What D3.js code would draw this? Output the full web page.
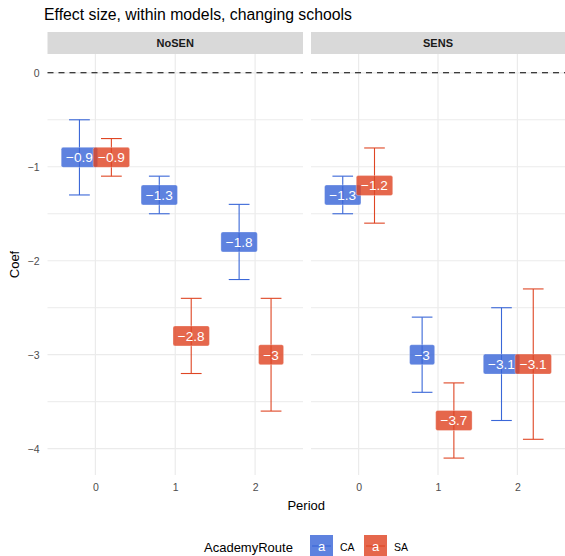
<!DOCTYPE html>
<html>
<head>
<meta charset="utf-8">
<script src="https://cdn.jsdelivr.net/npm/d3@7"></script>
<style>
  body { margin: 0; background: #fff; }
  svg { font-family: "Liberation Sans", Arial, sans-serif; display: block; }
</style>
</head>
<body>
<svg id="chart" width="565" height="556"></svg>
<script>
// data
var facets = ["NoSEN", "SENS"];
var routes = ["CA", "SA"];
var periods = [0, 1, 2];

var noSEN_CA_est = [-0.9, -1.3, -1.8];
var noSEN_CA_lo  = [-1.3, -1.5, -2.2];
var noSEN_CA_hi  = [-0.5, -1.1, -1.4];
var noSEN_SA_est = [-0.9, -2.8, -3.0];
var noSEN_SA_lo  = [-1.1, -3.2, -3.6];
var noSEN_SA_hi  = [-0.7, -2.4, -2.4];

var sens_CA_est = [-1.3, -3.0, -3.1];
var sens_CA_lo  = [-1.5, -3.4, -3.7];
var sens_CA_hi  = [-1.1, -2.6, -2.5];
var sens_SA_est = [-1.2, -3.7, -3.1];
var sens_SA_lo  = [-1.6, -4.1, -3.9];
var sens_SA_hi  = [-0.8, -3.3, -2.3];

var yTicks = [0, -1, -2, -3, -4];
var yMinor = [-0.5, -1.5, -2.5, -3.5];

// build rows
var rows = [];
function addRows(facet, route, est, lo, hi) {
    periods.forEach(function(p, i) {
        rows.push({facet: facet, route: route, period: p, est: est[i], lo: lo[i], hi: hi[i]});
    });
}
addRows("NoSEN", "CA", noSEN_CA_est, noSEN_CA_lo, noSEN_CA_hi);
addRows("NoSEN", "SA", noSEN_SA_est, noSEN_SA_lo, noSEN_SA_hi);
addRows("SENS", "CA", sens_CA_est, sens_CA_lo, sens_CA_hi);
addRows("SENS", "SA", sens_SA_est, sens_SA_lo, sens_SA_hi);

var lineCol = {CA: "#3a67d8", SA: "#df4624"};
var dodge = {CA: -0.2, SA: 0.2};

var svg = d3.select("#chart");

// panel geometry
var panelTop = 54, panelBottom = 475;
var panelX = {NoSEN: [47.5, 303], SENS: [311, 565]};

var y = d3.scaleLinear().domain([0.2, -4.28]).range([panelTop, panelBottom]);

// title
svg.append("text")
    .attr("x", 44).attr("y", 20)
    .style("font-size", "15.8px").attr("fill", "#000")
    .text("Effect size, within models, changing schools");

facets.forEach(function(f) {
    var x = d3.scaleLinear().domain([-0.6, 2.6]).range(panelX[f]);
    var g = svg.append("g");

    // strip
    g.append("rect")
        .attr("x", panelX[f][0]).attr("y", 32)
        .attr("width", panelX[f][1] - panelX[f][0]).attr("height", 22)
        .attr("fill", "#d9d9d9");
    g.append("text")
        .attr("x", (panelX[f][0] + panelX[f][1]) / 2).attr("y", 47)
        .attr("text-anchor", "middle")
        .style("font-size", "11px").style("font-weight", "bold")
        .attr("fill", "#1a1a1a")
        .text(f);

    // grid
    g.selectAll("line.minor").data(yMinor).enter().append("line")
        .attr("x1", panelX[f][0]).attr("x2", panelX[f][1])
        .attr("y1", d => y(d)).attr("y2", d => y(d))
        .attr("stroke", "#ebebeb").attr("stroke-width", 1);
    g.selectAll("line.major").data(yTicks).enter().append("line")
        .attr("x1", panelX[f][0]).attr("x2", panelX[f][1])
        .attr("y1", d => y(d)).attr("y2", d => y(d))
        .attr("stroke", "#ebebeb").attr("stroke-width", 1.2);
    g.selectAll("line.vgrid").data(periods).enter().append("line")
        .attr("x1", d => x(d)).attr("x2", d => x(d))
        .attr("y1", panelTop).attr("y2", panelBottom)
        .attr("stroke", "#ebebeb").attr("stroke-width", 1.2);

    // zero line
    g.append("line")
        .attr("x1", panelX[f][0]).attr("x2", panelX[f][1])
        .attr("y1", y(0)).attr("y2", y(0))
        .attr("stroke", "#000").attr("stroke-width", 1.1)
        .attr("stroke-dasharray", "6,5");

    // x axis
    var xAx = g.append("g")
        .attr("transform", "translate(0," + panelBottom + ")")
        .call(d3.axisBottom(x).tickValues(periods).tickSize(0).tickPadding(9).tickFormat(d3.format("d")));
    xAx.select(".domain").remove();
    xAx.selectAll("text").style("font-size", "10.5px").attr("fill", "#4d4d4d")
        .style("font-family", "Liberation Sans, Arial, sans-serif");

    var data = rows.filter(d => d.facet === f);
    var w = 0.13;

    // error bars
    var eb = g.selectAll("g.eb").data(data).enter().append("g")
        .attr("stroke", d => lineCol[d.route]).attr("stroke-width", 1.1);
    eb.append("line")
        .attr("x1", d => x(d.period + dodge[d.route])).attr("x2", d => x(d.period + dodge[d.route]))
        .attr("y1", d => y(d.lo)).attr("y2", d => y(d.hi));
    eb.append("line")
        .attr("x1", d => x(d.period + dodge[d.route] - w)).attr("x2", d => x(d.period + dodge[d.route] + w))
        .attr("y1", d => y(d.lo)).attr("y2", d => y(d.lo));
    eb.append("line")
        .attr("x1", d => x(d.period + dodge[d.route] - w)).attr("x2", d => x(d.period + dodge[d.route] + w))
        .attr("y1", d => y(d.hi)).attr("y2", d => y(d.hi));

    // labels
    data.forEach(function(d) {
        var lg = g.append("g");
        var cx = x(d.period + dodge[d.route]), cy = y(d.est);
        var rect = lg.append("rect");
        var t = lg.append("text")
            .attr("x", cx).attr("y", cy + 4.8)
            .attr("text-anchor", "middle")
            .style("font-size", "13.6px").attr("fill", "#fff")
            .text(String(d.est).replace("-", "\u2212"));
        var tw = t.node().getComputedTextLength();
        rect.attr("x", cx - tw / 2 - 4.8).attr("y", cy - 10)
            .attr("width", tw + 9.6).attr("height", 20)
            .attr("rx", 2).attr("ry", 2)
            .attr("fill", lineCol[d.route]).attr("fill-opacity", 0.82)
            .attr("stroke", "#fff").attr("stroke-opacity", 0.6).attr("stroke-width", 0.5);
    });
});

// y axis (left panel only)
var yAx = svg.append("g")
    .attr("transform", "translate(" + panelX.NoSEN[0] + ",0)")
    .call(d3.axisLeft(y).tickValues(yTicks).tickSize(0).tickPadding(8).tickFormat(d3.format("d")));
yAx.select(".domain").remove();
yAx.selectAll("text").style("font-size", "10.5px").attr("fill", "#4d4d4d")
    .style("font-family", "Liberation Sans, Arial, sans-serif");

// axis titles
svg.append("text")
    .attr("x", (panelX.NoSEN[0] + panelX.SENS[1]) / 2).attr("y", 510)
    .attr("text-anchor", "middle").style("font-size", "13px")
    .text("Period");
svg.append("text")
    .attr("transform", "translate(19," + ((panelTop + panelBottom) / 2) + ") rotate(-90)")
    .attr("text-anchor", "middle").style("font-size", "13px")
    .text("Coef");

// legend
svg.append("text")
    .attr("x", 204).attr("y", 552)
    .style("font-size", "13px")
    .text("AcademyRoute");
var legX = [310, 364];
routes.forEach(function(r, i) {
    var kg = svg.append("g").attr("transform", "translate(" + legX[i] + ",535)");
    kg.append("rect").attr("width", 23).attr("height", 23)
        .attr("fill", lineCol[r]).attr("fill-opacity", 0.82);
    kg.append("line").attr("x1", 2).attr("x2", 21).attr("y1", 11).attr("y2", 11)
        .attr("stroke", lineCol[r]).attr("stroke-width", 1.1);
    kg.append("text").attr("x", 11.5).attr("y", 16)
        .attr("text-anchor", "middle").style("font-size", "13px").attr("fill", "#fff")
        .text("a");
    svg.append("text")
        .attr("x", legX[i] + 30).attr("y", 551)
        .style("font-size", "10.5px")
        .text(r);
});
</script>
</body>
</html>
